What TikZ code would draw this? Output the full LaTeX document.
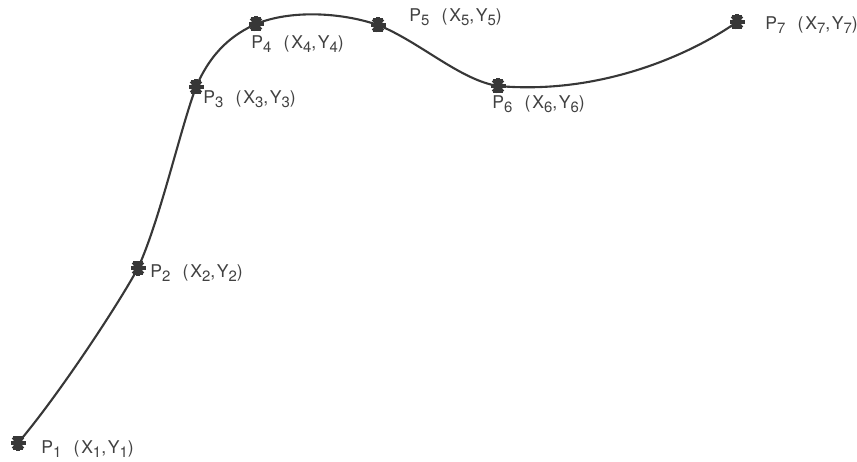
\documentclass[tikz,border=0pt]{standalone}
\usepackage{fontspec}
\setmainfont{TeX Gyre Heros}
\usepackage{tikz}
\definecolor{curveink}{RGB}{55, 55, 55}
\definecolor{labelink}{RGB}{65, 65, 65}
\newcommand{\lowidx}[1]{\raisebox{-0.45ex}{\fontsize{8.5}{9}\selectfont #1}}
\newcommand{\ptname}[1]{P\lowidx{#1}\hspace{0.7em}(X\lowidx{#1},Y\lowidx{#1})}

\tikzset{
	ptlabel/.style={text=labelink, font=\fontsize{10}{12}\selectfont\addfontfeature{LetterSpace=10}, inner sep=0pt},
	asterisk/.pic={
		\foreach \a in {0,50,90,130}
			\draw[curveink, line width=2pt] (\a:7.5) -- (\a+180:7.5);
		\draw[curveink, line width=1.3pt] (-5,6) -- (5,6) (-5,-6) -- (5,-6);
		\fill[curveink] (0,0) circle (4);
	}
}

\begin{document}
\begin{tikzpicture}[x=0.02cm, y=-0.02cm]
		\useasboundingbox (0,0) rectangle (857,462);
		
		\coordinate (p1) at (18,443);
		\coordinate (p2) at (138,268);
		\coordinate (p3) at (196,87);
		\coordinate (p4) at (256,24);
		\coordinate (p5) at (378,25);
		\coordinate (p6) at (498,86);
		\coordinate (p7) at (737,22);
		
		% the curve through the seven points
		\draw[curveink, line width=1.2pt] (p1)
			.. controls (58,396) and (118,305) .. (p2)
			.. controls (160,220) and (180,130) .. (p3)
			.. controls (212,50) and (234,34) .. (p4)
			.. controls (290,10) and (340,12) .. (p5)
			.. controls (420,42) and (460,80) .. (p6)
			.. controls (600,95) and (690,55) .. (p7);
		
		\foreach \p in {p1,p2,p3,p4,p5,p6,p7}
			\pic at (\p) {asterisk};
		
		\node[ptlabel, anchor=west] (l1) at (41,449) {\ptname{1}};
		\node[ptlabel, anchor=west] (l2) at (150,273) {\ptname{2}};
		\node[ptlabel, anchor=west] (l3) at (203,99) {\ptname{3}};
		\node[ptlabel, anchor=west] (l4) at (251,44) {\ptname{4}};
		\node[ptlabel, anchor=west] (l5) at (409,17) {\ptname{5}};
		\node[ptlabel, anchor=west] (l6) at (492,104) {\ptname{6}};
		\node[ptlabel, anchor=west] (l7) at (765,25) {\ptname{7}};
	\end{tikzpicture}
\end{document}
